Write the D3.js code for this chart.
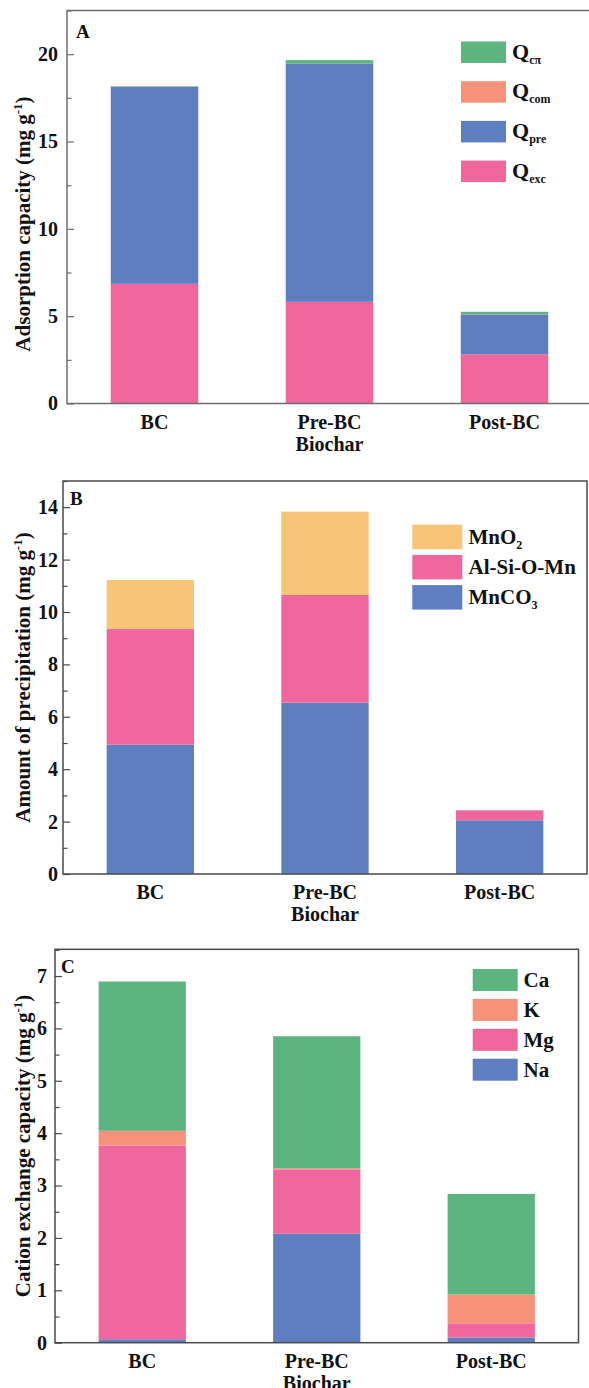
<!DOCTYPE html>
<html><head><meta charset="utf-8">
<script src="https://cdn.jsdelivr.net/npm/d3@7/dist/d3.min.js"></script>
<style>
html,body{margin:0;padding:0;background:#fff;}
</style></head>
<body>
<svg id="chart" width="589" height="1388"></svg>
<script>
// ---- data ----
const categories = ["BC", "Pre-BC", "Post-BC"];
const xTitle = "Biochar";

// Panel A: adsorption capacity (mg g-1)
const aKeys = ["Qexc", "Qpre", "Qcom", "Qcpi"];
const aQexc = [6.85, 5.82, 2.82];
const aQpre = [11.27, 13.65, 2.28];
const aQcom = [0.02, 0.00, 0.02];
const aQcpi = [0.03, 0.19, 0.13];
const aLegendSubs = ["cπ", "com", "pre", "exc"];
const aTicks = [0, 5, 10, 15, 20];

// Panel B: amount of precipitation (mg g-1)
const bKeys = ["MnCO3", "AlSiOMn", "MnO2"];
const bMnCO3 = [4.94, 6.54, 2.05];
const bAlSiOMn = [4.41, 4.11, 0.38];
const bMnO2 = [1.87, 3.18, 0.00];
const bTicks = [0, 2, 4, 6, 8, 10, 12, 14];

// Panel C: cation exchange capacity (mg g-1)
const cKeys = ["Na", "Mg", "K", "Ca"];
const cNa = [0.065, 2.08, 0.10];
const cMg = [3.70, 1.23, 0.27];
const cK = [0.28, 0.02, 0.55];
const cCa = [2.85, 2.52, 1.92];
const cTicks = [0, 1, 2, 3, 4, 5, 6, 7];

const colors = {
  green: "#5cb47f", orange: "#f6927a", blue: "#5f7ebf", pink: "#f0679d", yellow: "#f8c476"
};
const FONT = '"Liberation Serif"';

const svg = d3.select("#chart");

function rows(keys, arrays) {
  return categories.map((c, i) => {
    const r = {cat: c};
    keys.forEach((k, j) => r[k] = arrays[j][i]);
    return r;
  });
}

function panel(o) {
  const g = svg.append("g");
  const x = d3.scaleBand().domain(categories).range([o.left, o.right]).paddingInner(0.5).paddingOuter(0.25);
  const y = d3.scaleLinear().domain([0, o.ymax]).range([o.bottom, o.top]);
  const stack = d3.stack().keys(o.keys)(o.data);
  g.selectAll("g.layer").data(stack).join("g").attr("class", "layer")
    .attr("fill", d => o.color[d.key])
    .selectAll("rect").data(d => d).join("rect")
    .attr("x", d => x(d.data.cat))
    .attr("width", x.bandwidth())
    .attr("y", d => y(d[1]))
    .attr("height", d => Math.max(0, y(d[0]) - y(d[1])));

  // minor ticks
  g.append("g").attr("transform", `translate(${o.left},0)`)
    .call(d3.axisLeft(y).tickValues(o.minor).tickSizeInner(-4.5).tickSizeOuter(0).tickFormat(""))
    .call(s => s.select(".domain").remove())
    .call(s => s.selectAll("line").attr("stroke", o.stroke).attr("stroke-width", 1.2));
  // major ticks
  g.append("g").attr("transform", `translate(${o.left},0)`)
    .call(d3.axisLeft(y).tickValues(o.ticks).tickSizeInner(-7).tickSizeOuter(0).tickPadding(o.pad))
    .attr("font-family", null).attr("font-size", null)
    .call(s => s.select(".domain").remove())
    .call(s => s.selectAll("line").attr("stroke", o.stroke).attr("stroke-width", 1.2))
    .call(s => s.selectAll("text").attr("font-size", 20).attr("fill", "#111"));

  // frame
  g.append("rect").attr("x", o.left).attr("y", o.top)
    .attr("width", o.right - o.left).attr("height", o.bottom - o.top)
    .attr("fill", "none").attr("stroke", o.stroke).attr("stroke-width", 1.5);

  // category labels
  categories.forEach(c => {
    g.append("text").attr("x", x(c) + x.bandwidth() / 2).attr("y", o.bottom + 25)
      .attr("text-anchor", "middle").attr("font-size", 20).text(c);
  });
  g.append("text").attr("x", x(categories[1]) + x.bandwidth() / 2).attr("y", o.bottom + 47)
    .attr("text-anchor", "middle").attr("font-size", 20).text(xTitle);

  // y title
  const t = g.append("text")
    .attr("transform", `translate(30,${o.titleY}) rotate(-90)`)
    .attr("text-anchor", "middle").attr("font-size", 21);
  t.append("tspan").text(o.title + " (mg g");
  t.append("tspan").attr("font-size", 13).attr("dy", -8).text("-1");
  t.append("tspan").attr("dy", 8).text(")");

  // panel letter
  g.append("text").attr("x", o.left + o.letterDx).attr("y", o.top + o.letterDy)
    .attr("font-size", 19).text(o.letter);
  return {g, x, y};
}

// Panel A
panel({
  left: 67, right: 592, top: 10.5, bottom: 403.5, ymax: 22.5,
  keys: aKeys, data: rows(aKeys, [aQexc, aQpre, aQcom, aQcpi]),
  color: {Qexc: colors.pink, Qpre: colors.blue, Qcom: colors.orange, Qcpi: colors.green},
  ticks: aTicks, minor: [2.5, 7.5, 12.5, 17.5, 22.5], pad: 9, stroke: "#6e6e6e",
  title: "Adsorption capacity", titleY: 224, letter: "A", letterDx: 9, letterDy: 27
});
// legend A
const aLegColors = [colors.green, colors.orange, colors.blue, colors.pink];
aLegColors.forEach((c, i) => {
  const yy = 41.5 + i * 39.7;
  svg.append("rect").attr("x", 461).attr("y", yy).attr("width", 45).attr("height", 21.5).attr("fill", c);
  const t = svg.append("text").attr("x", 512).attr("y", yy + 17).attr("font-size", 22);
  t.append("tspan").text("Q");
  t.append("tspan").attr("font-size", 12).attr("dy", 5).text(aLegendSubs[i]);
});

// Panel B
panel({
  left: 63, right: 587, top: 481, bottom: 874, ymax: 15,
  keys: bKeys, data: rows(bKeys, [bMnCO3, bAlSiOMn, bMnO2]),
  color: {MnCO3: colors.blue, AlSiOMn: colors.pink, MnO2: colors.yellow},
  ticks: bTicks, minor: [1, 3, 5, 7, 9, 11, 13, 15], pad: 5, stroke: "#4a4a4a",
  title: "Amount of precipitation", titleY: 677.5, letter: "B", letterDx: 7, letterDy: 24
});
const bLeg = [
  {c: colors.yellow, main: "MnO", sub: "2"},
  {c: colors.pink, main: "Al-Si-O-Mn", sub: ""},
  {c: colors.blue, main: "MnCO", sub: "3"}
];
bLeg.forEach((d, i) => {
  const yy = 524.7 + i * 30.2;
  svg.append("rect").attr("x", 412.3).attr("y", yy).attr("width", 50).attr("height", 24.5).attr("fill", d.c);
  const t = svg.append("text").attr("x", 468.5).attr("y", yy + 19).attr("font-size", 21);
  t.append("tspan").text(d.main);
  if (d.sub) t.append("tspan").attr("font-size", 12).attr("dy", 5).text(d.sub);
});

// Panel C
panel({
  left: 55, right: 578.5, top: 949.3, bottom: 1342.7, ymax: 7.51,
  keys: cKeys, data: rows(cKeys, [cNa, cMg, cK, cCa]),
  color: {Na: colors.blue, Mg: colors.pink, K: colors.orange, Ca: colors.green},
  ticks: cTicks, minor: [0.5, 1.5, 2.5, 3.5, 4.5, 5.5, 6.5, 7.5], pad: 8, stroke: "#4a4a4a",
  title: "Cation exchange capacity", titleY: 1146, letter: "C", letterDx: 6, letterDy: 24
});
const cLeg = [
  {c: colors.green, t: "Ca"}, {c: colors.orange, t: "K"},
  {c: colors.pink, t: "Mg"}, {c: colors.blue, t: "Na"}
];
cLeg.forEach((d, i) => {
  const yy = 969 + i * 29.9;
  svg.append("rect").attr("x", 472.7).attr("y", yy).attr("width", 45).attr("height", 22).attr("fill", d.c);
  svg.append("text").attr("x", 523.5).attr("y", yy + 18).attr("font-size", 21).text(d.t);
});

// apply font to every text
svg.selectAll("text")
  .attr("font-family", "Liberation Serif").attr("font-weight", "bold")
  .style("font-family", FONT).style("font-weight", "bold").style("fill", "#111");
</script>
</body></html>
